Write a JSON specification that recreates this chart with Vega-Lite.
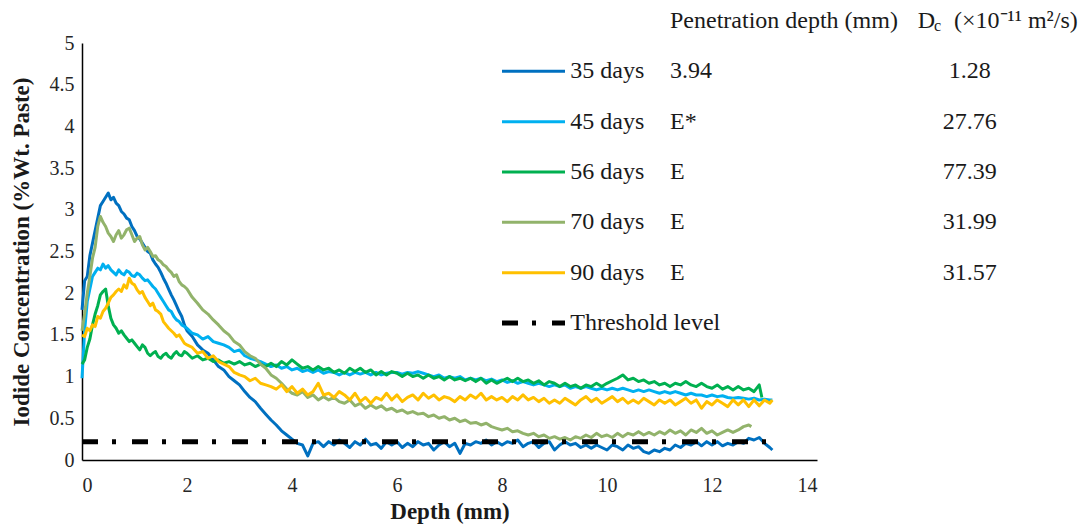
{
  "$schema": "https://vega.github.io/schema/vega-lite/v6.json",
  "width": 735,
  "height": 417,
  "autosize": {"type": "none"},
  "padding": {"left": 82, "top": 43, "right": 273, "bottom": 67},
  "background": "white",
  "config": {"view": {"stroke": null}, "font": "'Liberation Serif', 'Times New Roman', serif", "text": {"font": "'Liberation Serif', 'Times New Roman', serif"}, "axis": {"labelFont": "'Liberation Serif', 'Times New Roman', serif", "titleFont": "'Liberation Serif', 'Times New Roman', serif"}},
  "datasets": {
    "profiles": [
      {"depth":0,"35 days":1.80,"45 days":0.98,"56 days":1.15,"70 days":1.55,"90 days":1.50},
      {"depth":0.05,"35 days":2.15,"45 days":1.55,"56 days":1.20,"70 days":1.75,"90 days":1.48},
      {"depth":0.1,"35 days":2.20,"45 days":1.90,"56 days":1.35,"70 days":2.00,"90 days":1.58},
      {"depth":0.15,"35 days":2.45,"45 days":2.05,"56 days":1.45,"70 days":2.20,"90 days":1.55},
      {"depth":0.2,"35 days":2.60,"45 days":2.20,"56 days":1.62,"70 days":2.42,"90 days":1.62},
      {"depth":0.25,"35 days":2.75,"45 days":2.25,"56 days":1.75,"70 days":2.55,"90 days":1.60},
      {"depth":0.3,"35 days":2.90,"45 days":2.30,"56 days":1.85,"70 days":2.80,"90 days":1.72},
      {"depth":0.35,"35 days":3.05,"45 days":2.28,"56 days":1.98,"70 days":2.92,"90 days":1.70},
      {"depth":0.4,"35 days":3.10,"45 days":2.35,"56 days":2.02,"70 days":2.85,"90 days":1.78},
      {"depth":0.45,"35 days":3.15,"45 days":2.30,"56 days":2.05,"70 days":2.80,"90 days":1.82},
      {"depth":0.5,"35 days":3.20,"45 days":2.33,"56 days":1.85,"70 days":2.72,"90 days":1.88},
      {"depth":0.55,"35 days":3.12,"45 days":2.28,"56 days":1.70,"70 days":2.68,"90 days":1.95},
      {"depth":0.6,"35 days":3.15,"45 days":2.25,"56 days":1.62,"70 days":2.62,"90 days":1.98},
      {"depth":0.65,"35 days":3.08,"45 days":2.22,"56 days":1.58,"70 days":2.70,"90 days":2.02},
      {"depth":0.7,"35 days":3.05,"45 days":2.28,"56 days":1.52,"70 days":2.75,"90 days":2.05},
      {"depth":0.75,"35 days":2.98,"45 days":2.24,"56 days":1.55,"70 days":2.66,"90 days":2.02},
      {"depth":0.8,"35 days":2.95,"45 days":2.22,"56 days":1.50,"70 days":2.70,"90 days":2.10},
      {"depth":0.85,"35 days":2.90,"45 days":2.27,"56 days":1.46,"70 days":2.76,"90 days":2.06},
      {"depth":0.9,"35 days":2.88,"45 days":2.25,"56 days":1.42,"70 days":2.78,"90 days":2.18},
      {"depth":0.95,"35 days":2.80,"45 days":2.21,"56 days":1.44,"70 days":2.70,"90 days":2.12},
      {"depth":1.0,"35 days":2.75,"45 days":2.20,"56 days":1.40,"70 days":2.62,"90 days":2.10},
      {"depth":1.05,"35 days":2.68,"45 days":2.24,"56 days":1.36,"70 days":2.66,"90 days":2.04},
      {"depth":1.1,"35 days":2.65,"45 days":2.22,"56 days":1.32,"70 days":2.68,"90 days":2.00},
      {"depth":1.15,"35 days":2.60,"45 days":2.18,"56 days":1.38,"70 days":2.58,"90 days":2.02},
      {"depth":1.2,"35 days":2.55,"45 days":2.15,"56 days":1.35,"70 days":2.52,"90 days":1.95},
      {"depth":1.25,"35 days":2.50,"45 days":2.16,"56 days":1.28,"70 days":2.55,"90 days":1.90},
      {"depth":1.3,"35 days":2.48,"45 days":2.12,"56 days":1.25,"70 days":2.50,"90 days":1.85},
      {"depth":1.35,"35 days":2.40,"45 days":2.08,"56 days":1.28,"70 days":2.44,"90 days":1.88},
      {"depth":1.4,"35 days":2.35,"45 days":2.05,"56 days":1.30,"70 days":2.45,"90 days":1.80},
      {"depth":1.45,"35 days":2.31,"45 days":2.00,"56 days":1.24,"70 days":2.40,"90 days":1.78},
      {"depth":1.5,"35 days":2.25,"45 days":1.95,"56 days":1.22,"70 days":2.38,"90 days":1.75},
      {"depth":1.55,"35 days":2.18,"45 days":1.90,"56 days":1.26,"70 days":2.34,"90 days":1.66},
      {"depth":1.6,"35 days":2.12,"45 days":1.85,"56 days":1.28,"70 days":2.32,"90 days":1.62},
      {"depth":1.65,"35 days":2.05,"45 days":1.80,"56 days":1.24,"70 days":2.28,"90 days":1.58},
      {"depth":1.7,"35 days":1.98,"45 days":1.78,"56 days":1.22,"70 days":2.25,"90 days":1.55},
      {"depth":1.75,"35 days":1.92,"45 days":1.72,"56 days":1.27,"70 days":2.20,"90 days":1.52},
      {"depth":1.8,"35 days":1.85,"45 days":1.68,"56 days":1.30,"70 days":2.22,"90 days":1.48},
      {"depth":1.85,"35 days":1.78,"45 days":1.66,"56 days":1.26,"70 days":2.14,"90 days":1.50},
      {"depth":1.9,"35 days":1.72,"45 days":1.62,"56 days":1.25,"70 days":2.10,"90 days":1.45},
      {"depth":1.95,"35 days":1.62,"45 days":1.60,"56 days":1.30,"70 days":2.08,"90 days":1.40},
      {"depth":2.0,"35 days":1.55,"45 days":1.58,"56 days":1.28,"70 days":2.05,"90 days":1.38},
      {"depth":2.1,"35 days":1.48,"45 days":1.52,"56 days":1.22,"70 days":1.95,"90 days":1.35},
      {"depth":2.2,"35 days":1.38,"45 days":1.50,"56 days":1.25,"70 days":1.88,"90 days":1.28},
      {"depth":2.3,"35 days":1.32,"45 days":1.45,"56 days":1.20,"70 days":1.80,"90 days":1.30},
      {"depth":2.4,"35 days":1.28,"45 days":1.48,"56 days":1.22,"70 days":1.75,"90 days":1.22},
      {"depth":2.5,"35 days":1.20,"45 days":1.42,"56 days":1.18,"70 days":1.68,"90 days":1.25},
      {"depth":2.6,"35 days":1.12,"45 days":1.40,"56 days":1.20,"70 days":1.62,"90 days":1.18},
      {"depth":2.7,"35 days":1.08,"45 days":1.38,"56 days":1.16,"70 days":1.55,"90 days":1.15},
      {"depth":2.8,"35 days":1.00,"45 days":1.35,"56 days":1.18,"70 days":1.50,"90 days":1.12},
      {"depth":2.9,"35 days":0.95,"45 days":1.30,"56 days":1.15,"70 days":1.42,"90 days":1.05},
      {"depth":3.0,"35 days":0.90,"45 days":1.32,"56 days":1.18,"70 days":1.38,"90 days":1.02},
      {"depth":3.1,"35 days":0.82,"45 days":1.25,"56 days":1.14,"70 days":1.30,"90 days":1.00},
      {"depth":3.2,"35 days":0.75,"45 days":1.22,"56 days":1.16,"70 days":1.25,"90 days":0.95},
      {"depth":3.3,"35 days":0.70,"45 days":1.20,"56 days":1.12,"70 days":1.22,"90 days":0.98},
      {"depth":3.4,"35 days":0.62,"45 days":1.18,"56 days":1.15,"70 days":1.15,"90 days":0.92},
      {"depth":3.5,"35 days":0.55,"45 days":1.15,"56 days":1.12,"70 days":1.10,"90 days":0.90},
      {"depth":3.6,"35 days":0.48,"45 days":1.12,"56 days":1.16,"70 days":1.02,"90 days":0.88},
      {"depth":3.7,"35 days":0.42,"45 days":1.14,"56 days":1.12,"70 days":0.98,"90 days":0.85},
      {"depth":3.8,"35 days":0.35,"45 days":1.10,"56 days":1.18,"70 days":0.92,"90 days":0.90},
      {"depth":3.9,"35 days":0.30,"45 days":1.12,"56 days":1.14,"70 days":0.85,"90 days":0.82},
      {"depth":4.0,"35 days":0.25,"45 days":1.08,"56 days":1.20,"70 days":0.80,"90 days":0.88},
      {"depth":4.1,"35 days":0.20,"45 days":1.10,"56 days":1.15,"70 days":0.78,"90 days":0.80},
      {"depth":4.2,"35 days":0.18,"45 days":1.06,"56 days":1.10,"70 days":0.82,"90 days":0.85},
      {"depth":4.3,"35 days":0.05,"45 days":1.08,"56 days":1.12,"70 days":0.75,"90 days":0.78},
      {"depth":4.4,"35 days":0.20,"45 days":1.05,"56 days":1.08,"70 days":0.78,"90 days":0.82},
      {"depth":4.5,"35 days":0.22,"45 days":1.08,"56 days":1.12,"70 days":0.72,"90 days":0.92},
      {"depth":4.6,"35 days":0.16,"45 days":1.04,"56 days":1.08,"70 days":0.76,"90 days":0.78},
      {"depth":4.7,"35 days":0.22,"45 days":1.06,"56 days":1.10,"70 days":0.72,"90 days":0.80},
      {"depth":4.8,"35 days":0.18,"45 days":1.05,"56 days":1.05,"70 days":0.75,"90 days":0.75},
      {"depth":4.9,"35 days":0.24,"45 days":1.02,"56 days":1.08,"70 days":0.70,"90 days":0.82},
      {"depth":5.0,"35 days":0.20,"45 days":1.05,"56 days":1.04,"70 days":0.68,"90 days":0.78},
      {"depth":5.1,"35 days":0.15,"45 days":1.02,"56 days":1.10,"70 days":0.72,"90 days":0.72},
      {"depth":5.2,"35 days":0.22,"45 days":1.05,"56 days":1.06,"70 days":0.65,"90 days":0.80},
      {"depth":5.3,"35 days":0.18,"45 days":1.03,"56 days":1.10,"70 days":0.68,"90 days":0.70},
      {"depth":5.4,"35 days":0.25,"45 days":1.05,"56 days":1.05,"70 days":0.62,"90 days":0.75},
      {"depth":5.5,"35 days":0.18,"45 days":1.02,"56 days":1.08,"70 days":0.66,"90 days":0.68},
      {"depth":5.6,"35 days":0.20,"45 days":1.05,"56 days":1.02,"70 days":0.62,"90 days":0.75},
      {"depth":5.7,"35 days":0.14,"45 days":1.02,"56 days":1.06,"70 days":0.65,"90 days":0.72},
      {"depth":5.8,"35 days":0.22,"45 days":1.04,"56 days":1.02,"70 days":0.60,"90 days":0.80},
      {"depth":5.9,"35 days":0.18,"45 days":1.05,"56 days":1.06,"70 days":0.62,"90 days":0.72},
      {"depth":6.0,"35 days":0.22,"45 days":1.05,"56 days":1.04,"70 days":0.58,"90 days":0.78},
      {"depth":6.1,"35 days":0.15,"45 days":1.03,"56 days":1.00,"70 days":0.60,"90 days":0.70},
      {"depth":6.2,"35 days":0.20,"45 days":1.05,"56 days":1.04,"70 days":0.56,"90 days":0.75},
      {"depth":6.3,"35 days":0.16,"45 days":1.04,"56 days":1.00,"70 days":0.58,"90 days":0.78},
      {"depth":6.4,"35 days":0.22,"45 days":1.06,"56 days":1.02,"70 days":0.55,"90 days":0.72},
      {"depth":6.5,"35 days":0.18,"45 days":1.04,"56 days":0.98,"70 days":0.56,"90 days":0.80},
      {"depth":6.6,"35 days":0.20,"45 days":1.02,"56 days":1.02,"70 days":0.52,"90 days":0.74},
      {"depth":6.7,"35 days":0.12,"45 days":1.00,"56 days":0.98,"70 days":0.54,"90 days":0.78},
      {"depth":6.8,"35 days":0.18,"45 days":1.02,"56 days":1.00,"70 days":0.50,"90 days":0.72},
      {"depth":6.9,"35 days":0.22,"45 days":0.98,"56 days":0.96,"70 days":0.52,"90 days":0.76},
      {"depth":7.0,"35 days":0.16,"45 days":1.00,"56 days":1.00,"70 days":0.48,"90 days":0.74},
      {"depth":7.1,"35 days":0.20,"45 days":0.98,"56 days":0.96,"70 days":0.50,"90 days":0.70},
      {"depth":7.2,"35 days":0.08,"45 days":1.00,"56 days":0.98,"70 days":0.46,"90 days":0.76},
      {"depth":7.3,"35 days":0.20,"45 days":0.96,"56 days":0.95,"70 days":0.48,"90 days":0.72},
      {"depth":7.4,"35 days":0.18,"45 days":0.98,"56 days":0.98,"70 days":0.44,"90 days":0.78},
      {"depth":7.5,"35 days":0.22,"45 days":0.96,"56 days":0.94,"70 days":0.45,"90 days":0.74},
      {"depth":7.6,"35 days":0.20,"45 days":0.98,"56 days":0.98,"70 days":0.42,"90 days":0.80},
      {"depth":7.7,"35 days":0.24,"45 days":0.95,"56 days":0.92,"70 days":0.44,"90 days":0.72},
      {"depth":7.8,"35 days":0.18,"45 days":0.97,"56 days":0.96,"70 days":0.40,"90 days":0.76},
      {"depth":7.9,"35 days":0.22,"45 days":0.94,"56 days":0.92,"70 days":0.38,"90 days":0.72},
      {"depth":8.0,"35 days":0.18,"45 days":0.96,"56 days":0.95,"70 days":0.36,"90 days":0.75},
      {"depth":8.1,"35 days":0.22,"45 days":0.93,"56 days":0.98,"70 days":0.38,"90 days":0.70},
      {"depth":8.2,"35 days":0.20,"45 days":0.95,"56 days":0.94,"70 days":0.34,"90 days":0.76},
      {"depth":8.3,"35 days":0.24,"45 days":0.92,"56 days":0.98,"70 days":0.35,"90 days":0.72},
      {"depth":8.4,"35 days":0.16,"45 days":0.94,"56 days":0.94,"70 days":0.32,"90 days":0.78},
      {"depth":8.5,"35 days":0.20,"45 days":0.92,"56 days":0.96,"70 days":0.30,"90 days":0.72},
      {"depth":8.6,"35 days":0.22,"45 days":0.90,"56 days":0.92,"70 days":0.32,"90 days":0.75},
      {"depth":8.7,"35 days":0.15,"45 days":0.92,"56 days":0.95,"70 days":0.28,"90 days":0.70},
      {"depth":8.8,"35 days":0.20,"45 days":0.90,"56 days":0.90,"70 days":0.30,"90 days":0.74},
      {"depth":8.9,"35 days":0.22,"45 days":0.88,"56 days":0.94,"70 days":0.26,"90 days":0.68},
      {"depth":9.0,"35 days":0.12,"45 days":0.90,"56 days":0.92,"70 days":0.28,"90 days":0.72},
      {"depth":9.1,"35 days":0.18,"45 days":0.88,"56 days":0.88,"70 days":0.25,"90 days":0.68},
      {"depth":9.2,"35 days":0.22,"45 days":0.90,"56 days":0.92,"70 days":0.27,"90 days":0.74},
      {"depth":9.3,"35 days":0.18,"45 days":0.86,"56 days":0.88,"70 days":0.24,"90 days":0.70},
      {"depth":9.4,"35 days":0.20,"45 days":0.88,"56 days":0.90,"70 days":0.28,"90 days":0.66},
      {"depth":9.5,"35 days":0.15,"45 days":0.86,"56 days":0.86,"70 days":0.26,"90 days":0.72},
      {"depth":9.6,"35 days":0.18,"45 days":0.88,"56 days":0.90,"70 days":0.30,"90 days":0.76},
      {"depth":9.7,"35 days":0.14,"45 days":0.86,"56 days":0.88,"70 days":0.27,"90 days":0.70},
      {"depth":9.8,"35 days":0.18,"45 days":0.84,"56 days":0.92,"70 days":0.32,"90 days":0.74},
      {"depth":9.9,"35 days":0.15,"45 days":0.86,"56 days":0.88,"70 days":0.28,"90 days":0.68},
      {"depth":10.0,"35 days":0.12,"45 days":0.84,"56 days":0.92,"70 days":0.30,"90 days":0.72},
      {"depth":10.1,"35 days":0.18,"45 days":0.86,"56 days":0.95,"70 days":0.27,"90 days":0.76},
      {"depth":10.2,"35 days":0.16,"45 days":0.84,"56 days":0.98,"70 days":0.32,"90 days":0.70},
      {"depth":10.3,"35 days":0.12,"45 days":0.86,"56 days":1.02,"70 days":0.28,"90 days":0.74},
      {"depth":10.4,"35 days":0.18,"45 days":0.84,"56 days":0.96,"70 days":0.32,"90 days":0.68},
      {"depth":10.5,"35 days":0.14,"45 days":0.82,"56 days":0.98,"70 days":0.30,"90 days":0.72},
      {"depth":10.6,"35 days":0.16,"45 days":0.84,"56 days":0.94,"70 days":0.34,"90 days":0.68},
      {"depth":10.7,"35 days":0.10,"45 days":0.82,"56 days":0.96,"70 days":0.30,"90 days":0.74},
      {"depth":10.8,"35 days":0.08,"45 days":0.84,"56 days":0.92,"70 days":0.33,"90 days":0.70},
      {"depth":10.9,"35 days":0.12,"45 days":0.82,"56 days":0.94,"70 days":0.30,"90 days":0.66},
      {"depth":11.0,"35 days":0.10,"45 days":0.80,"56 days":0.90,"70 days":0.34,"90 days":0.72},
      {"depth":11.1,"35 days":0.14,"45 days":0.82,"56 days":0.92,"70 days":0.31,"90 days":0.68},
      {"depth":11.2,"35 days":0.12,"45 days":0.80,"56 days":0.88,"70 days":0.36,"90 days":0.72},
      {"depth":11.3,"35 days":0.18,"45 days":0.82,"56 days":0.92,"70 days":0.32,"90 days":0.66},
      {"depth":11.4,"35 days":0.15,"45 days":0.80,"56 days":0.90,"70 days":0.35,"90 days":0.70},
      {"depth":11.5,"35 days":0.20,"45 days":0.78,"56 days":0.94,"70 days":0.30,"90 days":0.74},
      {"depth":11.6,"35 days":0.18,"45 days":0.80,"56 days":0.90,"70 days":0.36,"90 days":0.68},
      {"depth":11.7,"35 days":0.22,"45 days":0.78,"56 days":0.88,"70 days":0.33,"90 days":0.72},
      {"depth":11.8,"35 days":0.17,"45 days":0.78,"56 days":0.92,"70 days":0.38,"90 days":0.62},
      {"depth":11.9,"35 days":0.22,"45 days":0.76,"56 days":0.88,"70 days":0.32,"90 days":0.70},
      {"depth":12.0,"35 days":0.18,"45 days":0.78,"56 days":0.86,"70 days":0.35,"90 days":0.66},
      {"depth":12.1,"35 days":0.22,"45 days":0.76,"56 days":0.90,"70 days":0.30,"90 days":0.72},
      {"depth":12.2,"35 days":0.17,"45 days":0.77,"56 days":0.85,"70 days":0.33,"90 days":0.68},
      {"depth":12.3,"35 days":0.20,"45 days":0.75,"56 days":0.88,"70 days":0.36,"90 days":0.64},
      {"depth":12.4,"35 days":0.18,"45 days":0.74,"56 days":0.84,"70 days":0.33,"90 days":0.72},
      {"depth":12.5,"35 days":0.22,"45 days":0.75,"56 days":0.88,"70 days":0.36,"90 days":0.66},
      {"depth":12.6,"35 days":0.20,"45 days":0.74,"56 days":0.84,"70 days":0.40,"90 days":0.72},
      {"depth":12.7,"35 days":0.26,"45 days":0.73,"56 days":0.86,"70 days":0.42,"90 days":0.64},
      {"depth":12.75,"70 days":0.40},
      {"depth":12.8,"35 days":0.24,"45 days":0.74,"56 days":0.82,"90 days":0.72},
      {"depth":12.9,"35 days":0.27,"45 days":0.72,"56 days":0.90,"90 days":0.65},
      {"depth":12.95,"56 days":0.75},
      {"depth":13.0,"35 days":0.20,"45 days":0.73,"90 days":0.72},
      {"depth":13.1,"35 days":0.15,"45 days":0.72,"90 days":0.68},
      {"depth":13.15,"35 days":0.12,"45 days":0.72,"90 days":0.72}
    ],
    "threshold": [{"label": "Threshold level", "level": 0.22, "from": 0, "to": 13.15}],
    "legend": [
      {"series": "35 days", "pen": "3.94", "dc": "1.28"},
      {"series": "45 days", "pen": "E*", "dc": "27.76"},
      {"series": "56 days", "pen": "E", "dc": "77.39"},
      {"series": "70 days", "pen": "E", "dc": "31.99"},
      {"series": "90 days", "pen": "E", "dc": "31.57"},
      {"series": "Threshold level", "pen": "", "dc": ""}
    ],
    "header": [
      {"series": "header", "part": "pen", "text": "Penetration depth (mm)"},
      {"series": "header", "part": "D", "text": "D"},
      {"series": "header", "part": "sub", "text": "c"},
      {"series": "header", "part": "unit", "text": "(×10⁻¹¹ m²/s)"}
    ]
  },
  "layer": [
    {
      "data": {"name": "profiles"},
      "transform": [
        {"fold": ["35 days", "45 days", "56 days", "70 days", "90 days"], "as": ["series", "conc"]},
        {"filter": "isValid(datum.conc)"}
      ],
      "mark": {"type": "line", "strokeWidth": 3, "strokeJoin": "round"},
      "encoding": {
        "x": {
          "field": "depth", "type": "quantitative",
          "scale": {"domain": [0, 14], "nice": false},
          "axis": {
            "title": "Depth (mm)", "values": [0, 2, 4, 6, 8, 10, 12, 14],
            "grid": false, "ticks": false, "domainColor": "#000", "domainWidth": 1.5,
            "labelFontSize": 20, "labelColor": "#262626", "labelPadding": 15,
            "titleFontSize": 23, "titleFontWeight": "bold", "titleColor": "#1a1a1a", "titlePadding": 5
          }
        },
        "y": {
          "field": "conc", "type": "quantitative",
          "scale": {"domain": [0, 5], "nice": false},
          "axis": {
            "title": "Iodide Concentration (%Wt. Paste)", "values": [0, 0.5, 1, 1.5, 2, 2.5, 3, 3.5, 4, 4.5, 5], "format": "~g",
            "grid": false, "ticks": false, "domainColor": "#000", "domainWidth": 1.5,
            "labelFontSize": 20, "labelColor": "#262626", "labelPadding": 8,
            "titleFontSize": 23, "titleFontWeight": "bold", "titleColor": "#1a1a1a", "titlePadding": 16
          }
        },
        "color": {
          "field": "series", "type": "nominal",
          "scale": {"domain": ["35 days", "45 days", "56 days", "70 days", "90 days"], "range": ["#0070C0", "#00B0F0", "#00B050", "#92B36B", "#FFC000"]},
          "legend": null
        }
      }
    },
    {
      "data": {"name": "threshold"},
      "mark": {"type": "rule", "color": "#000", "strokeWidth": 5, "strokeDash": [16, 14, 4, 16], "strokeCap": "butt"},
      "encoding": {
        "x": {"field": "from", "type": "quantitative", "scale": {"domain": [0, 14], "nice": false}},
        "x2": {"field": "to"},
        "y": {"field": "level", "type": "quantitative", "scale": {"domain": [0, 5], "nice": false}, "axis": null}
      }
    },
    {
      "data": {"name": "legend"},
      "transform": [{"filter": "datum.series !== 'Threshold level'"}],
      "mark": {"type": "rule", "strokeWidth": 3},
      "encoding": {
        "x": {"datum": 8.0, "type": "quantitative", "scale": {"domain": [0, 14], "nice": false}},
        "x2": {"datum": 9.2},
        "y": {"field": "series", "type": "ordinal", "scale": {"type": "point", "domain": ["header", "35 days", "45 days", "56 days", "70 days", "90 days", "Threshold level"], "range": [-22, 280], "padding": 0}, "axis": null},
        "color": {"field": "series", "type": "nominal", "legend": null}
      }
    },
    {
      "data": {"name": "legend"},
      "transform": [{"filter": "datum.series === 'Threshold level'"}],
      "mark": {"type": "rule", "color": "#000", "strokeWidth": 5, "strokeDash": [16, 14, 4, 16], "strokeCap": "butt"},
      "encoding": {
        "x": {"datum": 8.0, "type": "quantitative", "scale": {"domain": [0, 14], "nice": false}},
        "x2": {"datum": 9.2},
        "y": {"field": "series", "type": "ordinal", "scale": {"type": "point", "domain": ["header", "35 days", "45 days", "56 days", "70 days", "90 days", "Threshold level"], "range": [-22, 280], "padding": 0}, "axis": null}
      }
    },
    {
      "data": {"name": "legend"},
      "mark": {"type": "text", "align": "left", "baseline": "middle", "fontSize": 24, "color": "#1a1a1a"},
      "encoding": {
        "x": {"datum": 9.3, "type": "quantitative", "scale": {"domain": [0, 14], "nice": false}},
        "y": {"field": "series", "type": "ordinal", "scale": {"type": "point", "domain": ["header", "35 days", "45 days", "56 days", "70 days", "90 days", "Threshold level"], "range": [-22, 280], "padding": 0}, "axis": null},
        "text": {"field": "series"}
      }
    },
    {
      "data": {"name": "legend"},
      "mark": {"type": "text", "align": "left", "baseline": "middle", "fontSize": 24, "color": "#1a1a1a"},
      "encoding": {
        "x": {"datum": 11.2, "type": "quantitative", "scale": {"domain": [0, 14], "nice": false}},
        "y": {"field": "series", "type": "ordinal", "scale": {"type": "point", "domain": ["header", "35 days", "45 days", "56 days", "70 days", "90 days", "Threshold level"], "range": [-22, 280], "padding": 0}, "axis": null},
        "text": {"field": "pen"}
      }
    },
    {
      "data": {"name": "legend"},
      "mark": {"type": "text", "align": "center", "baseline": "middle", "fontSize": 24, "color": "#1a1a1a"},
      "encoding": {
        "x": {"datum": 16.91, "type": "quantitative", "scale": {"domain": [0, 14], "nice": false}},
        "y": {"field": "series", "type": "ordinal", "scale": {"type": "point", "domain": ["header", "35 days", "45 days", "56 days", "70 days", "90 days", "Threshold level"], "range": [-22, 280], "padding": 0}, "axis": null},
        "text": {"field": "dc"}
      }
    },
    {
      "data": {"name": "header"},
      "transform": [{"filter": "datum.part === 'pen'"}],
      "mark": {"type": "text", "align": "left", "baseline": "middle", "fontSize": 24, "color": "#1a1a1a"},
      "encoding": {
        "x": {"datum": 11.2, "type": "quantitative", "scale": {"domain": [0, 14], "nice": false}},
        "y": {"field": "series", "type": "ordinal", "scale": {"type": "point", "domain": ["header", "35 days", "45 days", "56 days", "70 days", "90 days", "Threshold level"], "range": [-22, 280], "padding": 0}, "axis": null},
        "text": {"field": "text"}
      }
    },
    {
      "data": {"name": "header"},
      "transform": [{"filter": "datum.part === 'D'"}],
      "mark": {"type": "text", "align": "left", "baseline": "middle", "fontSize": 24, "color": "#1a1a1a"},
      "encoding": {
        "x": {"datum": 15.92, "type": "quantitative", "scale": {"domain": [0, 14], "nice": false}},
        "y": {"field": "series", "type": "ordinal", "scale": {"type": "point", "domain": ["header", "35 days", "45 days", "56 days", "70 days", "90 days", "Threshold level"], "range": [-22, 280], "padding": 0}, "axis": null},
        "text": {"field": "text"}
      }
    },
    {
      "data": {"name": "header"},
      "transform": [{"filter": "datum.part === 'sub'"}],
      "mark": {"type": "text", "align": "left", "baseline": "middle", "fontSize": 16, "dy": 5, "color": "#1a1a1a"},
      "encoding": {
        "x": {"datum": 16.23, "type": "quantitative", "scale": {"domain": [0, 14], "nice": false}},
        "y": {"field": "series", "type": "ordinal", "scale": {"type": "point", "domain": ["header", "35 days", "45 days", "56 days", "70 days", "90 days", "Threshold level"], "range": [-22, 280], "padding": 0}, "axis": null},
        "text": {"field": "text"}
      }
    },
    {
      "data": {"name": "header"},
      "transform": [{"filter": "datum.part === 'unit'"}],
      "mark": {"type": "text", "align": "left", "baseline": "middle", "fontSize": 24, "color": "#1a1a1a"},
      "encoding": {
        "x": {"datum": 16.61, "type": "quantitative", "scale": {"domain": [0, 14], "nice": false}},
        "y": {"field": "series", "type": "ordinal", "scale": {"type": "point", "domain": ["header", "35 days", "45 days", "56 days", "70 days", "90 days", "Threshold level"], "range": [-22, 280], "padding": 0}, "axis": null},
        "text": {"field": "text"}
      }
    }
  ],
  "resolve": {"scale": {"y": "independent"}}
}
